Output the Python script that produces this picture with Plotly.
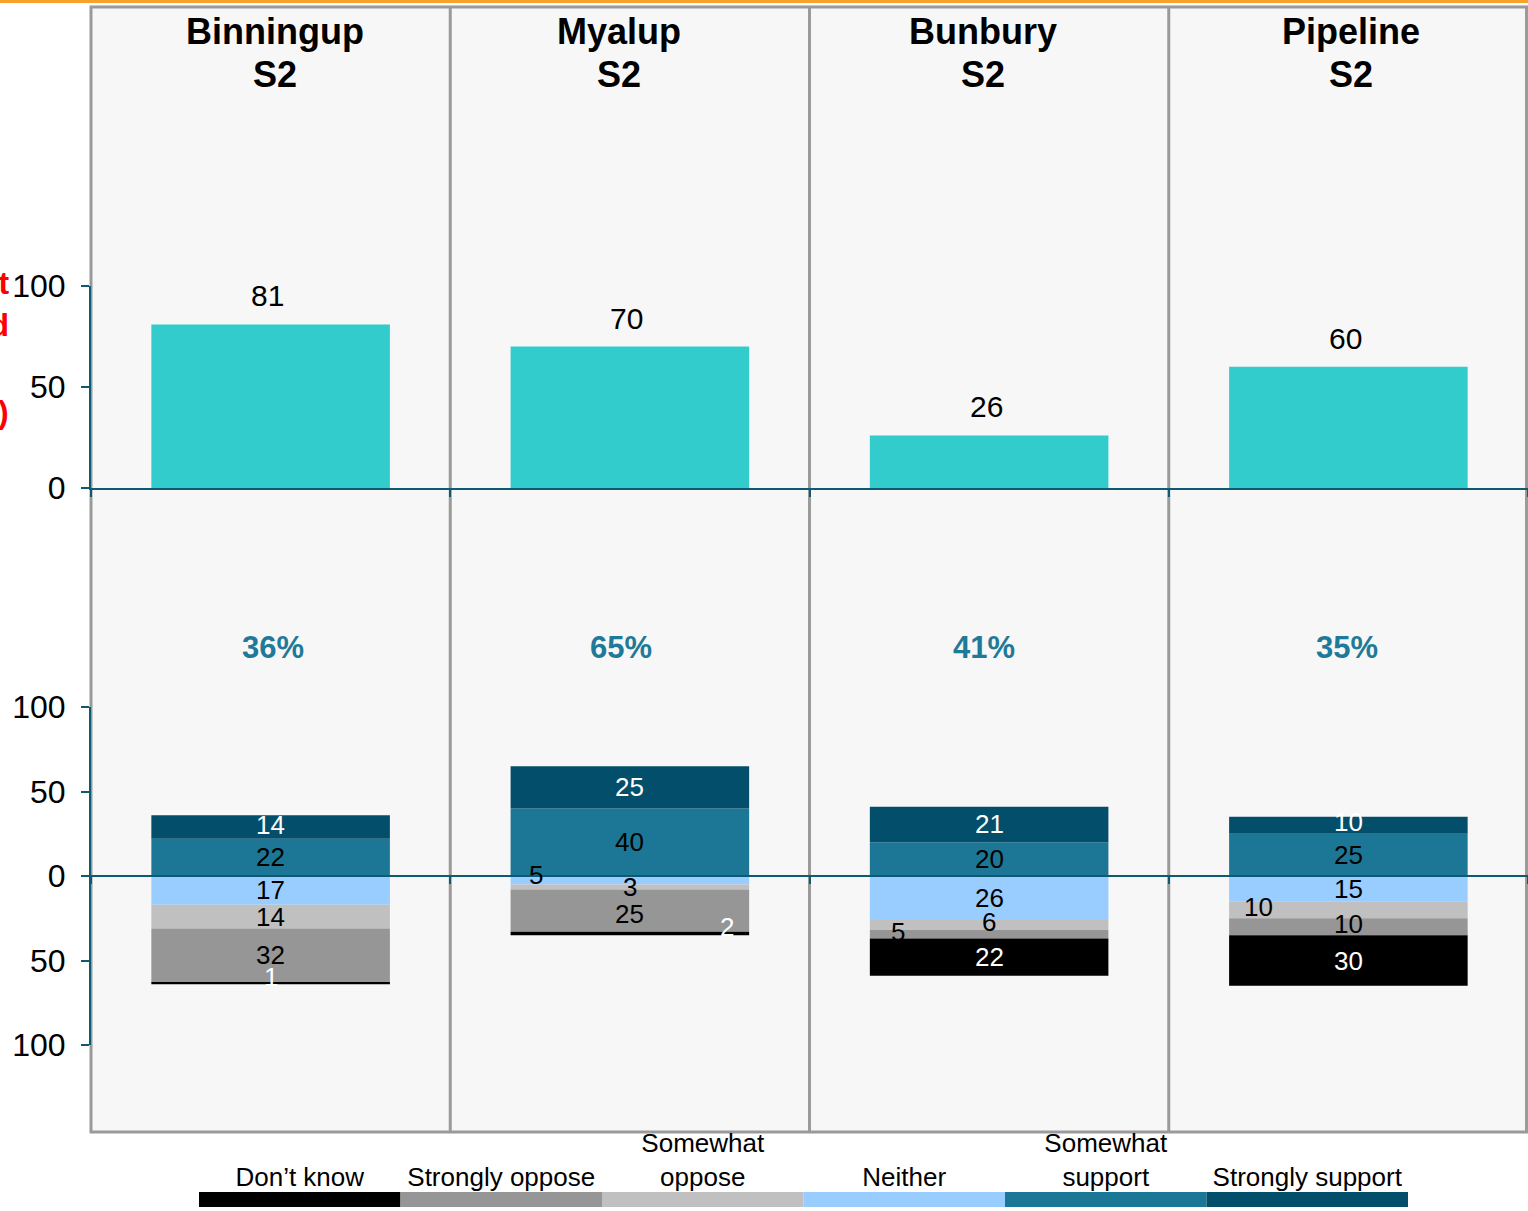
import plotly.graph_objects as go

# --- dati ---
locations = ["Binningup", "Myalup", "Bunbury", "Pipeline"]
waves = ["S2", "S2", "S2", "S2"]
aware = [81, 70, 26, 60]

strongly_support = [14, 25, 21, 10]
somewhat_support = [22, 40, 20, 25]
neither = [17, 5, 26, 15]
somewhat_oppose = [14, 3, 6, 10]
strongly_oppose = [32, 25, 5, 10]
dont_know = [1, 2, 22, 30]

legend_labels = ["Don’t know", "Strongly oppose", "Somewhat<br>oppose",
                 "Neither", "Somewhat<br>support", "Strongly support"]

top_ticks = [0, 50, 100]
bottom_ticks = [-100, -50, 0, 50, 100]
bottom_tick_text = ["100", "50", "0", "50", "100"]

# --- stile ---
W, H = 1528, 1211
FONT = "Liberation Sans, Arial, sans-serif"
AXIS = "#0E5A73"
FRAME = "#9A9A9A"
C = {
    "dk": "#000000",
    "so": "#969696",
    "wo": "#C0C0C0",
    "ne": "#99CCFF",
    "ws": "#1C7796",
    "ss": "#034F6B",
}
header_xshift = [4, -11, -6, 3]
pct_xshift = [2, -9, -5, -1]


def px_y(p):
    return 1 - p / H


def px_x(p):
    return p / W


BAR_W = 0.664

fig = go.Figure()

# top: awareness bars
fig.add_trace(go.Bar(
    x=locations, y=aware, xaxis="x", yaxis="y", width=BAR_W,
    marker=dict(color="#33CCCC", line=dict(width=0)),
    showlegend=False, hoverinfo="x+y",
))

# bottom: diverging stacked bars (negatives first, from zero downward)
series = [
    ("Neither", [-v for v in neither], neither, C["ne"], "black"),
    ("Somewhat oppose", [-v for v in somewhat_oppose], somewhat_oppose, C["wo"], "black"),
    ("Strongly oppose", [-v for v in strongly_oppose], strongly_oppose, C["so"], "black"),
    ("Don't know", [-v for v in dont_know], dont_know, C["dk"], "white"),
    ("Somewhat support", somewhat_support, somewhat_support, C["ws"], "black"),
    ("Strongly support", strongly_support, strongly_support, C["ss"], "white"),
]

# label nudges as in the original (series, location) -> (xshift, yshift)
shifted = {
    ("Neither", "Myalup"): (-94, 5),
    ("Don't know", "Myalup"): (97, 6),
    ("Strongly oppose", "Bunbury"): (-91, 2),
    ("Somewhat oppose", "Pipeline"): (-90, 3),
    ("Strongly support", "Binningup"): (0, 2),
    ("Strongly support", "Pipeline"): (0, 3),
    ("Don't know", "Binningup"): (0, 6),
    ("Somewhat oppose", "Bunbury"): (0, 3),
    ("Strongly oppose", "Myalup"): (0, -3),
    ("Strongly oppose", "Pipeline"): (0, 3),
}

annotations = []
neg_base = [0, 0, 0, 0]
pos_base = [0, 0, 0, 0]
for name, vals, raw, col, tcol in series:
    for i, loc in enumerate(locations):
        v = vals[i]
        if v < 0:
            mid = neg_base[i] + v / 2
            neg_base[i] += v
        else:
            mid = pos_base[i] + v / 2
            pos_base[i] += v
        xs, ys = shifted.get((name, loc), (0, 0))
        annotations.append(dict(
            x=loc, y=mid, xref="x2", yref="y2", text=str(raw[i]),
            showarrow=False, xshift=xs, yshift=ys,
            font=dict(size=26, color=tcol, family=FONT),
        ))
    fig.add_trace(go.Bar(
        x=locations, y=vals, xaxis="x2", yaxis="y2", width=BAR_W, name=name,
        marker=dict(color=col, line=dict(width=0)),
        showlegend=False, hoverinfo="x+name",
    ))

# legend strip
fig.add_trace(go.Bar(
    x=legend_labels, y=[1] * 6, xaxis="x3", yaxis="y3", width=1,
    marker=dict(color=[C["dk"], C["so"], C["wo"], C["ne"], C["ws"], C["ss"]],
                line=dict(width=0)),
    showlegend=False, hoverinfo="skip",
))

# value labels on top bars
for loc, v in zip(locations, aware):
    annotations.append(dict(
        x=loc, y=v, xref="x", yref="y", text=str(v), showarrow=False,
        yanchor="bottom", yshift=10, xshift=-3,
        font=dict(size=30, color="black", family=FONT),
    ))

# headers + net support
for i, loc in enumerate(locations):
    for txt, yp in [(loc, 32), (waves[i], 75)]:
        annotations.append(dict(
            x=loc, y=px_y(yp), xref="x", yref="paper", yanchor="middle",
            xshift=header_xshift[i], text=f"<b>{txt}</b>", showarrow=False,
            font=dict(size=36, color="black", family=FONT),
        ))
    net = strongly_support[i] + somewhat_support[i]
    annotations.append(dict(
        x=loc, y=px_y(647), xref="x", yref="paper", yanchor="middle",
        xshift=pct_xshift[i],
        text=f"<b>{net}%</b>", showarrow=False,
        font=dict(size=31, color="#1F7A99", family=FONT),
    ))

# cut-off red axis title on the far left
for txt, yp in [("Aware of project", 283), ("have heard", 325), ("(%)", 412)]:
    annotations.append(dict(
        x=px_x(11), y=px_y(yp), xref="paper", yref="paper", xanchor="right",
        yanchor="middle", text=f"<b>{txt}</b>", showarrow=False,
        font=dict(size=32, color="red", family=FONT),
    ))

shapes = [
    # panel
    dict(type="rect", xref="paper", yref="paper", x0=px_x(91), x1=px_x(1526.5),
         y0=px_y(1132), y1=px_y(7), fillcolor="#F7F7F7",
         line=dict(color=FRAME, width=3), layer="below"),
    # top orange rule
    dict(type="line", xref="paper", yref="paper", x0=0, x1=1,
         y0=px_y(1.5), y1=px_y(1.5), line=dict(color="#F7A32A", width=3)),
]
for b in [0.5, 1.5, 2.5]:
    shapes.append(dict(type="line", xref="x", yref="paper", x0=b, x1=b,
                       y0=px_y(1132), y1=px_y(7),
                       line=dict(color=FRAME, width=3), layer="below"))

xcommon = dict(
    domain=[px_x(91), 1], range=[-0.5, 3.5], categoryorder="array",
    categoryarray=locations, showgrid=False, zeroline=False,
    showticklabels=False, showline=True, linecolor=AXIS, linewidth=2,
    ticks="outside", tickson="boundaries", ticklen=7, tickcolor=AXIS,
    tickwidth=2, fixedrange=True,
)
ycommon = dict(
    showgrid=False, zeroline=False, showline=True, linecolor=AXIS,
    linewidth=2, ticks="outside", ticklen=8, tickcolor=AXIS, tickwidth=2,
    tickfont=dict(size=32, color="black", family=FONT), ticklabelstandoff=9,
    fixedrange=True,
)

fig.update_layout(
    width=W, height=H,
    margin=dict(l=0, r=0, t=0, b=0, autoexpand=False),
    paper_bgcolor="white", plot_bgcolor="rgba(0,0,0,0)",
    barmode="relative",
    font=dict(family=FONT, color="black"),
    xaxis=dict(**xcommon, anchor="y"),
    yaxis=dict(**ycommon, domain=[px_y(488), px_y(286)], range=[0, 100],
               tickvals=top_ticks, anchor="x"),
    xaxis2=dict(**xcommon, anchor="free", position=px_y(876)),
    yaxis2=dict(**ycommon, domain=[px_y(1045), px_y(707)], range=[-100, 100],
                tickvals=bottom_ticks, ticktext=bottom_tick_text, anchor="x2"),
    xaxis3=dict(domain=[px_x(199), px_x(1408)], range=[-0.5, 5.5], anchor="y3",
                side="top", showgrid=False, zeroline=False, showline=False,
                ticks="", tickfont=dict(size=26, color="black", family=FONT),
                fixedrange=True),
    yaxis3=dict(domain=[px_y(1207), px_y(1192)], range=[0, 1], anchor="x3",
                visible=False, fixedrange=True),
    annotations=annotations,
    shapes=shapes,
)

# la pagina parte da (0, 0) come l'originale
fig.write_html("out.html", config={"displayModeBar": False},
               post_script="document.body.style.margin = '0';")
